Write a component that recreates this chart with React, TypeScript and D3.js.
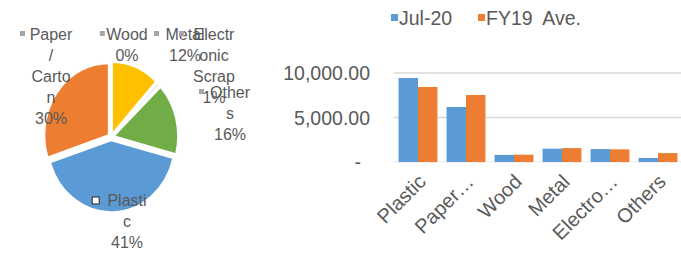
import * as d3 from "d3";

// pie: share of waste by material (data labels, %)
const pieCategories = ["Plastic", "Paper / Carton", "Wood", "Metal", "Electronic Scrap", "Others"];
const pieValues = [41, 30, 0, 12, 1, 16];
const pieColors = ["#5B9BD5", "#ED7D31", "#A5A5A5", "#FFC000", "#EEF3FA", "#70AD47"];
// how each data label wraps in the original
const pieLabelLines = [
  ["Plasti", "c", "41%"],
  ["Paper", "/", "Carto", "n", "30%"],
  ["Wood", "0%"],
  ["Metal", "12%"],
  ["Electr", "onic", "Scrap", "1%"],
  ["Other", "s", "16%"],
];

// bars: monthly amount vs FY19 average
const barCategories = ["Plastic", "Paper…", "Wood", "Metal", "Electro…", "Others"];
const seriesNames = ["Jul-20", "FY19  Ave."];
const jul20 = [9440, 6180, 800, 1500, 1450, 450];
const fy19Ave = [8430, 7530, 820, 1560, 1420, 1000];
const seriesColors = ["#5B9BD5", "#ED7D31"];
const yTicks = [0, 5000, 10000];

const W = 681;
const H = 253;
const textColor = "#595959";
const font = "'Liberation Sans', Arial, sans-serif";

// label anchor (centre x of the text block, y of first line) per slice
const labelPos: [number, number][] = [
  [127, 200],
  [51, 34],
  [127, 34],
  [185, 34],
  [214, 34],
  [230, 92],
];

function Pie() {
  const cx = 111;
  const cy = 137;
  const r = 64;
  const firstSliceAngle = (104.4 * Math.PI) / 180;
  const pie = d3
    .pie<number>()
    .sort(null)
    .startAngle(firstSliceAngle)
    .endAngle(firstSliceAngle + 2 * Math.PI);
  const arcs = pie(pieValues);
  const arc = d3.arc<d3.PieArcDatum<number>>().innerRadius(0).outerRadius(r);
  const explode = 3;

  return (
    <g>
      <g transform={`translate(${cx},${cy}) scale(1,1.12)`}>
        {arcs.map((a, i) => {
          if (a.value === 0) return null;
          const mid = (a.startAngle + a.endAngle) / 2;
          const dx = Math.sin(mid) * explode;
          const dy = -Math.cos(mid) * explode;
          return (
            <path
              key={pieCategories[i]}
              d={arc(a) ?? ""}
              fill={pieColors[i]}
              stroke="#fff"
              strokeWidth={1.5}
              transform={`translate(${dx},${dy})`}
            />
          );
        })}
      </g>
      <g fontFamily={font} fontSize={16} fill={textColor}>
        {pieLabelLines.map((lines, i) => {
          const [lx, ly] = labelPos[i];
          const firstWidth = lines[0].length * 7.6;
          const mx = lx - firstWidth / 2 - 12;
          const isInside = i === 0;
          return (
            <g key={pieCategories[i]}>
              <rect
                x={mx}
                y={ly - 3}
                width={isInside ? 7 : 5}
                height={isInside ? 7 : 5}
                fill={isInside ? "#fff" : "#a6a6a6"}
                stroke={isInside ? "#404040" : "none"}
                strokeWidth={1.2}
              />
              {lines.map((t, j) => (
                <text
                  key={j}
                  x={lx}
                  y={ly + j * 21}
                  textAnchor="middle"
                  dominantBaseline="central"
                >
                  {t}
                </text>
              ))}
            </g>
          );
        })}
      </g>
    </g>
  );
}

function Bars() {
  const x = d3
    .scaleBand<string>()
    .domain(barCategories)
    .range([394, 682])
    .paddingInner(0.19)
    .paddingOuter(0.095);
  const xs = d3.scaleBand<string>().domain(seriesNames).range([0, x.bandwidth()]);
  const y = d3.scaleLinear().domain([0, 10000]).range([162, 73]);
  const fmt = d3.format(",.2f");
  const series = [jul20, fy19Ave];

  return (
    <g fontFamily={font} fill={textColor}>
      {yTicks
        .filter((t) => t > 0)
        .map((t) => (
          <line key={t} x1={394} x2={681} y1={y(t)} y2={y(t)} stroke="#d9d9d9" strokeWidth={1.5} />
        ))}
      <line x1={394} x2={681} y1={y(0)} y2={y(0)} stroke="#e6e6e6" strokeWidth={1} />
      {yTicks.map((t) => (
        <text
          key={t}
          x={t === 0 ? 361 : 370}
          y={y(t)}
          textAnchor="end"
          dominantBaseline="central"
          fontSize={19.5}
        >
          {t === 0 ? "-" : fmt(t)}
        </text>
      ))}
      {barCategories.map((c, i) => (
        <g key={c} transform={`translate(${x(c)},0)`}>
          {series.map((vals, s) => (
            <rect
              key={s}
              x={xs(seriesNames[s])}
              y={y(vals[i])}
              width={xs.bandwidth()}
              height={y(0) - y(vals[i])}
              fill={seriesColors[s]}
            />
          ))}
        </g>
      ))}
      {barCategories.map((c) => {
        const cxp = (x(c) ?? 0) + x.bandwidth() / 2 + 9;
        return (
          <text
            key={c}
            transform={`translate(${cxp},183) rotate(-45)`}
            textAnchor="end"
            fontSize={20}
          >
            {c}
          </text>
        );
      })}
      {/* legend */}
      {seriesNames.map((n, s) => {
        const lx = s === 0 ? 391 : 478;
        return (
          <g key={n}>
            <rect x={lx} y={14} width={7} height={7} fill={seriesColors[s]} />
            <text
              x={lx + 8}
              y={18}
              dominantBaseline="central"
              fontSize={19.5}
              style={{ whiteSpace: "pre" }}
            >
              {n}
            </text>
          </g>
        );
      })}
    </g>
  );
}

export default function App() {
  return (
    <svg
      width={W}
      height={H}
      viewBox={`0 0 ${W} ${H}`}
      style={{ position: "absolute", left: 0, top: 0, background: "#fff" }}
    >
      <rect width={W} height={H} fill="#fff" />
      <Pie />
      <Bars />
    </svg>
  );
}
